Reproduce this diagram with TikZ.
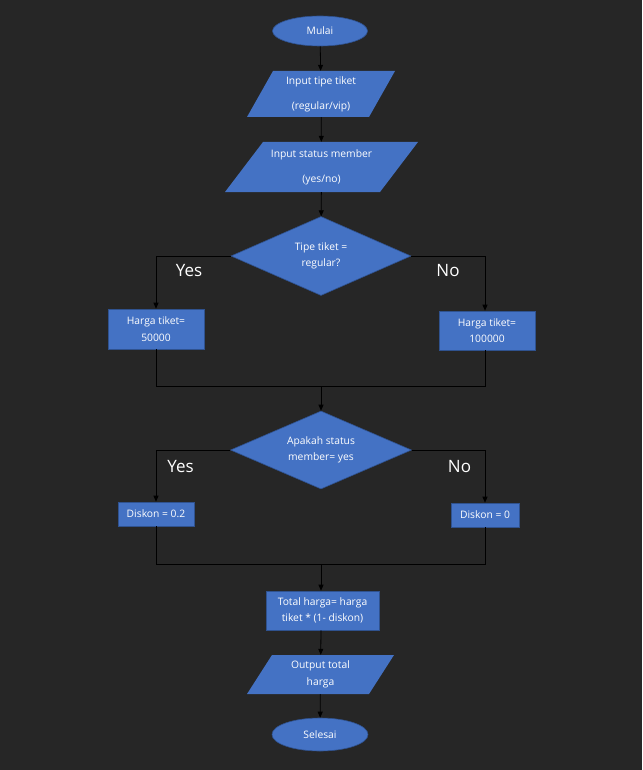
\documentclass[tikz,border=0pt]{standalone}
\usepackage{fontspec}
\setmainfont{Open Sans}
\usetikzlibrary{shapes.geometric,arrows.meta}
\definecolor{bg}{HTML}{262626}
\definecolor{boxblue}{HTML}{4472C4}
\definecolor{boxedge}{HTML}{2F528F}
\begin{document}
\begin{tikzpicture}[x=1pt,y=-1pt,
  base/.style={text=white, font=\fontsize{10.3}{16.5}\selectfont, align=center, inner sep=0pt},
  term/.style={base, ellipse, fill=boxblue, draw=boxedge, line width=0.6pt},
  proc/.style={base, rectangle, fill=boxblue, draw=boxedge, line width=0.6pt},
  dec/.style={base, diamond, aspect=2.3, fill=boxblue, draw=boxedge, line width=0.6pt},
  io/.style={base, rectangle, fill=bg, draw=none,
    path picture={\fill[boxblue] ([xshift=#1]path picture bounding box.north west)
      -- (path picture bounding box.north east)
      -- ([xshift=-#1]path picture bounding box.south east)
      -- (path picture bounding box.south west) -- cycle;}},
  lbl/.style={text=white, font=\fontsize{17}{20}\selectfont, anchor=base, inner sep=0pt},
  flow/.style={draw=black, line width=0.8pt},
  arr/.style={flow, -{Triangle[length=6pt,width=5pt]}}
]
\fill[bg] (0,0) rectangle (642,770);
\useasboundingbox (0,0) rectangle (642,770);

\node[term, minimum width=95pt, minimum height=30pt] (start) at (320,31) {Mulai};
\node[io=26, minimum width=148pt, minimum height=46pt] (in1) at (321,94) {Input tipe tiket\\[8.5pt](regular/vip)};
\node[io=38, minimum width=193pt, minimum height=50pt] (in2) at (321.5,167) {Input status member\\[8.5pt](yes/no)};
\node[dec, minimum width=180pt, minimum height=79pt] (d1) at (321,256) {Tipe tiket =\\regular?};
\node[proc, minimum width=96pt, minimum height=40pt] (h1) at (156,329) {Harga tiket=\\50000};
\node[proc, minimum width=96pt, minimum height=39pt] (h2) at (487,330.5) {Harga tiket=\\100000};
\coordinate (m1) at (321,386);
\node[dec, minimum width=181pt, minimum height=78pt] (d2) at (321,450) {Apakah status\\member= yes};
\node[proc, minimum width=76pt, minimum height=24pt] (k1) at (156,514) {Diskon = 0.2};
\node[proc, minimum width=68pt, minimum height=24pt] (k2) at (485,515) {Diskon = 0};
\coordinate (m2) at (321,564);
\node[proc, minimum width=113pt, minimum height=39pt] (tot) at (322.5,610.5) {Total harga= harga\\tiket * (1- diskon)};
\node[io=25, minimum width=147pt, minimum height=39pt] (out) at (320.5,674.5) {Output total\\harga};
\node[term, minimum width=96pt, minimum height=33pt] (end) at (320,734.5) {Selesai};

\node[lbl] (y1) at (189,276) {Yes};
\node[lbl] (n1) at (448,276) {No};
\node[lbl] (y2) at (180.5,472) {Yes};
\node[lbl] (n2) at (459.5,472) {No};

\draw[arr] (start) -- (in1);
\draw[arr] (in1) -- (in2);
\draw[arr] (in2) -- (d1);
\draw[arr] (d1.west) -| (h1.north);
\draw[arr] (d1.east) -| ([xshift=-2pt]h2.north);
\draw[flow] (h1.south) |- (m1);
\draw[flow] ([xshift=-2pt]h2.south) |- (m1);
\draw[arr] (m1) -- (d2.north);
\draw[arr] (d2.west) -| (k1.north);
\draw[arr] (d2.east) -| (k2.north);
\draw[flow] (k1.south) |- (m2);
\draw[flow] (k2.south) |- (m2);
\draw[arr] (m2) -- ([xshift=-1.5pt]tot.north);
\draw[arr] ([xshift=-1.5pt]tot.south) -- (out);
\draw[arr] (out) -- (end);
\end{tikzpicture}
\end{document}
